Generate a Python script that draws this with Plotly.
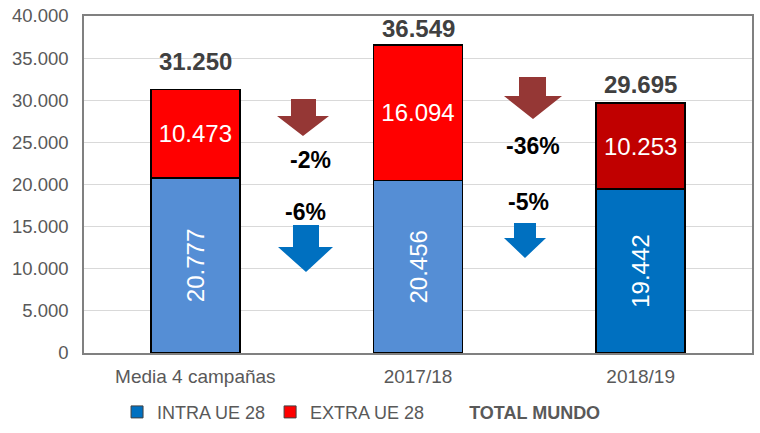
import plotly.graph_objects as go

categories = ["Media 4 campañas", "2017/18", "2018/19"]
intra_ue28 = [20777, 20456, 19442]
extra_ue28 = [10473, 16094, 10253]
total_mundo = [31250, 36549, 29695]
pct_labels_extra = ["-2%", "-36%"]
pct_labels_intra = ["-6%", "-5%"]
y_ticks = [0, 5000, 10000, 15000, 20000, 25000, 30000, 35000, 40000]

intra_colors = ["#558ED5", "#558ED5", "#0070C0"]
extra_colors = ["#FF0000", "#FF0000", "#C00000"]
FONT = "Liberation Sans, Arial, sans-serif"

# plot-area geometry (pixels) for placing decorations
L, R, T, B = 84, 8, 16, 80
W, H = 760, 433
PW, PH = W - L - R, H - T - B
YMAX = 40000


def px2data(px, py):
    x = (px - L) / PW * 3 - 0.5
    y = (H - B - py) / PH * YMAX
    return x, y


def arrow_path(shaft_l, shaft_r, top, head_y, head_l, head_r, tip_x, tip_y):
    pts = [(shaft_l, top), (shaft_r, top), (shaft_r, head_y), (head_r, head_y),
           (tip_x, tip_y), (head_l, head_y), (shaft_l, head_y)]
    d = []
    for i, (a, b) in enumerate(pts):
        x, y = px2data(a, b)
        d.append(("M" if i == 0 else "L") + f"{x:.4f},{y:.2f}")
    return " ".join(d) + " Z"


x_idx = list(range(len(categories)))
fig = go.Figure()

fig.add_trace(go.Bar(
    x=x_idx, y=intra_ue28, width=0.4, name="INTRA UE 28", showlegend=False,
    marker=dict(color=intra_colors, line=dict(color="#000000", width=1.5)),
    texttemplate="%{y:,}", textposition="inside", insidetextanchor="middle",
    textangle=-90, textfont=dict(color="white", size=24, family=FONT),
    hoverinfo="skip"))
fig.add_trace(go.Bar(
    x=x_idx, y=extra_ue28, width=0.4, name="EXTRA UE 28", showlegend=False,
    marker=dict(color=extra_colors, line=dict(color="#000000", width=1.5)),
    texttemplate="%{y:,}", textposition="inside", insidetextanchor="middle",
    textangle=0, textfont=dict(color="white", size=24, family=FONT),
    hoverinfo="skip"))

# legend entries
fig.add_trace(go.Bar(x=[None], y=[None], name="INTRA UE 28", showlegend=True,
                     marker=dict(color="#0070C0", line=dict(color="#404040", width=1))))
fig.add_trace(go.Bar(x=[None], y=[None], name="EXTRA UE 28", showlegend=True,
                     marker=dict(color="#FF0000", line=dict(color="#404040", width=1))))
fig.add_trace(go.Scatter(x=[None], y=[None], mode="lines", line=dict(width=0, color="rgba(0,0,0,0)"),
                         name="<b>TOTAL MUNDO</b>", showlegend=True))

# total labels
total_offsets = [28, 17, 18]
for i, (tot, off) in enumerate(zip(total_mundo, total_offsets)):
    fig.add_annotation(x=i, y=tot, text=f"<b>{tot:,}</b>".replace(",", "."),
                       showarrow=False, yanchor="middle", yshift=off,
                       font=dict(size=24, color="#404040", family=FONT))

# percentage labels
pct_pos_extra = [(310, 160), (533, 146)]
pct_pos_intra = [(305, 212), (528, 202)]
for lab, (a, b) in zip(pct_labels_extra + pct_labels_intra, pct_pos_extra + pct_pos_intra):
    x, y = px2data(a, b)
    fig.add_annotation(x=x, y=y, text=f"<b>{lab}</b>", showarrow=False,
                       font=dict(size=23, color="#000000", family=FONT))

# arrows
shapes = [
    dict(path=arrow_path(291, 316, 99, 116, 277, 329, 303, 136), color="#953735"),
    dict(path=arrow_path(519, 546, 77, 96, 504, 562, 533, 119), color="#953735"),
    dict(path=arrow_path(293, 319, 225, 247, 278, 333, 306, 272), color="#0070C0"),
    dict(path=arrow_path(514, 536, 223, 238, 504, 546, 525, 258), color="#0070C0"),
]
for s in shapes:
    fig.add_shape(type="path", path=s["path"], xref="x", yref="y",
                  fillcolor=s["color"], line=dict(width=0), layer="above")

fig.update_layout(
    width=W, height=H, barmode="stack", separators=",.",
    paper_bgcolor="white", plot_bgcolor="white",
    margin=dict(l=L, r=R, t=T, b=B, pad=0, autoexpand=False),
    font=dict(family=FONT, color="#595959", size=18),
    xaxis=dict(range=[-0.5, 2.5], tickvals=x_idx, ticktext=categories,
               showgrid=False, showline=True, linecolor="#808080", linewidth=1.5,
               mirror=True, ticks="", ticklabelstandoff=5,
               tickfont=dict(size=19, color="#595959"),
               zeroline=False, automargin=False),
    yaxis=dict(range=[0, YMAX], tickvals=y_ticks, tickformat=",d",
               showgrid=True, gridcolor="#D9D9D9", gridwidth=1,
               showline=True, linecolor="#808080", linewidth=1.5, mirror=True,
               ticks="", ticklabelstandoff=10, automargin=False,
               tickfont=dict(size=18.5, color="#595959"), zeroline=False),
    legend=dict(orientation="h", xref="container", yref="container",
                x=0.154, xanchor="left", y=0.048, yanchor="middle",
                traceorder="normal", itemwidth=30,
                font=dict(size=18, color="#595959"), bgcolor="rgba(0,0,0,0)"),
    showlegend=True,
)

fig.write_html("out.html", config={"displayModeBar": False},
               post_script="document.body.style.margin='0';")
